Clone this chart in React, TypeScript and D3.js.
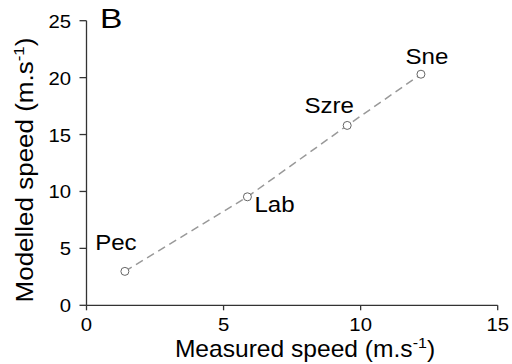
import React from "react";
import * as d3 from "d3";

const sites = ["Pec", "Lab", "Szre", "Sne"];
const measured = [1.4, 5.87, 9.51, 12.2];
const modelled = [2.98, 9.53, 15.8, 20.3];
const xTicks = [0, 5, 10, 15];
const yTicks = [0, 5, 10, 15, 20, 25];

// label placement (pixels relative to point): [dx, dy, anchor]
const labelPlacement: [number, number, string][] = [
  [-9, -21, "middle"],
  [7, 15, "start"],
  [-18, -12, "middle"],
  [6, -10, "middle"],
];

const FONT = "'Liberation Sans', Arial, sans-serif";
const SX = 1.07;

function T({ x, y, size, anchor = "middle", sx = SX, rotate = 0, children }: any) {
  return (
    <text
      transform={`translate(${x},${y}) rotate(${rotate}) scale(${sx},1)`}
      textAnchor={anchor}
      fontSize={size}
      fontFamily={FONT}
      fill="#000"
    >
      {children}
    </text>
  );
}

export default function App() {
  const W = 512, H = 364;
  const x = d3.scaleLinear().domain([0, 15]).range([86.5, 497.7]);
  const y = d3.scaleLinear().domain([0, 25]).range([305.3, 20.7]);
  const line = d3
    .line<number>()
    .x((_, i) => x(measured[i]))
    .y((d) => y(d));
  const axisColor = "#333";
  return (
    <svg
      width={W}
      height={H}
      style={{ position: "absolute", left: 0, top: 0, background: "#fff" }}
    >
      {/* axes */}
      <line x1={x(0)} x2={x(15)} y1={y(0)} y2={y(0)} stroke={axisColor} strokeWidth={1.3} />
      <line x1={x(0)} x2={x(0)} y1={y(0)} y2={y(25)} stroke={axisColor} strokeWidth={1.3} />
      {xTicks.map((t) => (
        <g key={"xt" + t}>
          <line x1={x(t)} x2={x(t)} y1={y(0)} y2={y(0) + 5} stroke={axisColor} strokeWidth={1.3} />
          <T x={x(t)} y={331} size={19}>{t}</T>
        </g>
      ))}
      {yTicks.map((t) => (
        <g key={"yt" + t}>
          <line x1={x(0) - 7} x2={x(0)} y1={y(t)} y2={y(t)} stroke={axisColor} strokeWidth={1.3} />
          <T x={71} y={y(t) + 7} size={19} anchor="end">{t}</T>
        </g>
      ))}
      {/* dashed line */}
      <path d={line(modelled) || ""} fill="none" stroke="#999" strokeWidth={1.5} strokeDasharray="8,5" />
      {modelled.map((v, i) => (
        <circle key={"c" + i} cx={x(measured[i])} cy={y(v)} r={4} fill="#fff" stroke="#666" strokeWidth={1} />
      ))}
      {sites.map((s, i) => (
        <T
          key={"l" + s}
          x={x(measured[i]) + labelPlacement[i][0]}
          y={y(modelled[i]) + labelPlacement[i][1]}
          size={22.5}
          anchor={labelPlacement[i][2]}
        >
          {s}
        </T>
      ))}
      {/* titles */}
      <T x={305} y={357} size={23}>
        Measured speed (m.s<tspan fontSize={15} dy={-9}>-1</tspan><tspan dy={9}>)</tspan>
      </T>
      <T x={33} y={170} size={23} rotate={-90} sx={1.13}>
        Modelled speed (m.s<tspan fontSize={15} dy={-9}>-1</tspan><tspan dy={9}>)</tspan>
      </T>
      <T x={100} y={28} size={28} anchor="start" sx={1.2}>B</T>
    </svg>
  );
}
